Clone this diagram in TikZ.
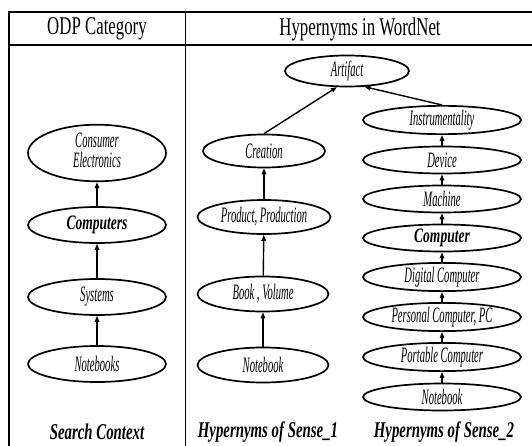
\documentclass[tikz,border=0pt]{standalone}
\usepackage{fontspec}
\usepackage{graphicx}
\setmainfont{Liberation Serif}[FakeStretch=0.66]
\usetikzlibrary{shapes.geometric,arrows.meta}
\newcommand{\nt}[1]{\scalebox{0.73}[1]{#1}}
\tikzset{
  ell/.style={ellipse, draw, line width=1.7pt, inner sep=0pt, font=\fontsize{22}{17}\selectfont\itshape, align=center},
  lcol/.style={ell, minimum width=138pt, minimum height=36pt},
  mcol/.style={ell, minimum width=131pt, minimum height=35pt},
  rcol/.style={ell, minimum width=158pt, minimum height=27pt},
  arr/.style={-{Triangle[length=6pt,width=4.5pt]}, line width=1.4pt},
  headtxt/.style={font=\fontsize{25.5}{27}\selectfont},
  captxt/.style={font=\fontsize{22.5}{24}\selectfont\bfseries\itshape},
  bnode/.style={font=\fontsize{20.5}{17}\selectfont\bfseries\itshape},
}
\begin{document}
\begin{tikzpicture}[x=1pt,y=-1pt]
\useasboundingbox (0,0) rectangle (532,446);
% frame
\draw[line width=2pt] (8.5,446) -- (8.5,12.5) -- (532,12.5);
\draw[line width=1.2pt] (8.5,45) -- (532,45);
\draw[line width=1pt] (185,12.5) -- (185,446);
\node[headtxt] (h1) at (97,29) {ODP Category};
\node[headtxt] (h2) at (360,29) {Hypernyms in WordNet};
% left column
\node[lcol, minimum height=42pt] (ce) at (97,153) {\nt{\begin{tabular}{@{}c@{}}Consumer\\[0pt]Electronics\end{tabular}}};
\node[lcol, bnode] (cs) at (97,225) {Computers};
\node[lcol] (sy) at (97,297) {\nt{Systems}};
\node[lcol] (nb) at (97,364) {\nt{Notebooks}};
\draw[arr] (nb) -- (sy);
\draw[arr] (sy) -- (cs);
\draw[arr] (cs) -- (ce);
% middle column
\node[ell, minimum width=124pt, minimum height=31pt] (art) at (347,71) {\nt{Artifact}};
\node[mcol, minimum width=122pt, minimum height=33pt] (cr) at (264,151) {\nt{Creation}};
\node[mcol, minimum width=133pt, minimum height=34pt] (pp) at (264,217) {\nt{Product, Production}};
\node[mcol] (bv) at (263,294) {\nt{Book , Volume}};
\node[mcol] (nb1) at (263,365) {\nt{Notebook}};
\draw[arr] (nb1) -- (bv);
\draw[arr] (bv) -- (pp);
\draw[arr] (pp) -- (cr);
\draw[arr] (cr.north) -- (art.238);
% right column
\node[rcol] (ins) at (442,120) {\nt{Instrumentality}};
\node[rcol] (dev) at (442,160) {\nt{Device}};
\node[rcol] (mac) at (442,199) {\nt{Machine}};
\node[rcol, bnode] (com) at (442,238) {Computer};
\node[rcol] (dig) at (442,277) {\nt{Digital Computer}};
\node[rcol] (pc) at (442,317) {\nt{Personal Computer, PC}};
\node[rcol] (por) at (442,357) {\nt{Portable Computer}};
\node[rcol] (nb2) at (442,397) {\nt{Notebook}};
\draw[arr] (nb2) -- (por);
\draw[arr] (por) -- (pc);
\draw[arr] (pc) -- (dig);
\draw[arr] (dig) -- (com);
\draw[arr] (com) -- (mac);
\draw[arr] (mac) -- (dev);
\draw[arr] (dev) -- (ins);
\draw[arr] (ins.north) -- (art.-42);
% captions
\node[captxt] (c1) at (97,432) {Search Context};
\node[captxt] (c2) at (268,432) {Hypernyms of Sense\_1};
\node[captxt] (c3) at (444,432) {Hypernyms of Sense\_2};
\end{tikzpicture}
\end{document}
